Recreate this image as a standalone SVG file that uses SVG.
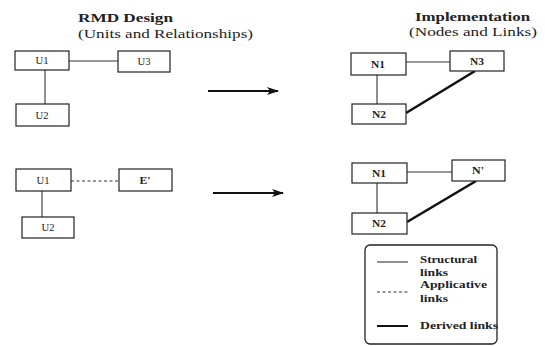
<svg xmlns="http://www.w3.org/2000/svg" width="545" height="346" viewBox="0 0 545 346">
<defs>
<style>
.box{fill:#fff;stroke:#222;stroke-width:1.2}
.ln{stroke:#333;stroke-width:1.1;fill:none}
.dash{stroke:#333;stroke-width:1.1;fill:none;stroke-dasharray:3,2.5}
.thick{stroke:#111;stroke-width:2.6;fill:none}
.arr{stroke:#111;stroke-width:2.2;fill:none}
.title{font-family:"Liberation Serif",serif;font-size:12px;font-weight:bold;fill:#222}
.sub{font-family:"Liberation Serif",serif;font-size:12px;fill:#222}
.lbl{font-family:"Liberation Serif",serif;font-size:10px;fill:#222;text-anchor:middle}
.lblb{font-family:"Liberation Serif",serif;font-size:10px;font-weight:bold;fill:#222;text-anchor:middle}
.leg{font-family:"Liberation Serif",serif;font-size:10px;font-weight:bold;fill:#222}
</style>
<marker id="ah" viewBox="0 0 12 8" refX="11" refY="4" markerWidth="12" markerHeight="8" markerUnits="userSpaceOnUse" orient="auto">
<path d="M0,0 L12,4 L0,8 L3,4 Z" fill="#111"/>
</marker>
</defs>
<rect width="545" height="346" fill="#fff"/>
<text class="title" x="78" y="22" textLength="95" lengthAdjust="spacingAndGlyphs">RMD Design</text>
<text class="sub" x="78" y="38" textLength="175" lengthAdjust="spacingAndGlyphs">(Units and Relationships)</text>
<text class="title" x="415" y="21" textLength="115" lengthAdjust="spacingAndGlyphs">Implementation</text>
<text class="sub" x="409" y="36" textLength="128" lengthAdjust="spacingAndGlyphs">(Nodes and Links)</text>
<g id="connectors">
<line class="ln" x1="69" y1="61" x2="118" y2="61"/>
<line class="ln" x1="45" y1="70" x2="45" y2="104"/>
<line class="arr" x1="208" y1="91" x2="278" y2="91" marker-end="url(#ah)"/>
<line class="ln" x1="406" y1="62" x2="450" y2="62"/>
<line class="ln" x1="377" y1="75" x2="377" y2="104"/>
<line class="thick" x1="406" y1="113" x2="475" y2="71"/>
<line class="dash" x1="71" y1="181" x2="119" y2="181"/>
<line class="ln" x1="42" y1="191" x2="42" y2="217"/>
<line class="arr" x1="213" y1="193" x2="283" y2="193" marker-end="url(#ah)"/>
<line class="ln" x1="407" y1="172" x2="452" y2="172"/>
<line class="ln" x1="377" y1="183" x2="377" y2="213"/>
<line class="thick" x1="407" y1="222" x2="476" y2="181"/>
</g>
<g id="U1a"><rect class="box" x="15" y="51" width="54" height="19"/><text class="lbl" x="42" y="64" textLength="13" lengthAdjust="spacingAndGlyphs">U1</text></g>
<g id="U3"><rect class="box" x="118" y="51" width="52" height="21"/><text class="lbl" x="144" y="65" textLength="13" lengthAdjust="spacingAndGlyphs">U3</text></g>
<g id="U2a"><rect class="box" x="16" y="104" width="53" height="22"/><text class="lbl" x="42" y="119" textLength="13" lengthAdjust="spacingAndGlyphs">U2</text></g>
<g id="N1a"><rect class="box" x="351" y="53" width="55" height="22"/><text class="lblb" x="378" y="68" textLength="14" lengthAdjust="spacingAndGlyphs">N1</text></g>
<g id="N3"><rect class="box" x="450" y="51" width="54" height="20"/><text class="lblb" x="477" y="65" textLength="14" lengthAdjust="spacingAndGlyphs">N3</text></g>
<g id="N2a"><rect class="box" x="352" y="104" width="54" height="20"/><text class="lblb" x="379" y="118" textLength="14" lengthAdjust="spacingAndGlyphs">N2</text></g>
<g id="U1b"><rect class="box" x="16" y="169" width="55" height="22"/><text class="lbl" x="43" y="184" textLength="13" lengthAdjust="spacingAndGlyphs">U1</text></g>
<g id="E"><rect class="box" x="119" y="169" width="53" height="22"/><text class="lblb" x="145" y="184" textLength="11" lengthAdjust="spacingAndGlyphs">E'</text></g>
<g id="U2b"><rect class="box" x="22" y="217" width="52" height="21"/><text class="lbl" x="48" y="231" textLength="13" lengthAdjust="spacingAndGlyphs">U2</text></g>
<g id="N1b"><rect class="box" x="352" y="163" width="55" height="20"/><text class="lblb" x="379" y="177" textLength="14" lengthAdjust="spacingAndGlyphs">N1</text></g>
<g id="Nprime"><rect class="box" x="452" y="160" width="53" height="21"/><text class="lblb" x="478" y="174" textLength="12" lengthAdjust="spacingAndGlyphs">N'</text></g>
<g id="N2b"><rect class="box" x="352" y="213" width="55" height="21"/><text class="lblb" x="379" y="227" textLength="14" lengthAdjust="spacingAndGlyphs">N2</text></g>
<g id="legend">
<rect x="365" y="245" width="132" height="99" rx="5" ry="5" fill="#fff" stroke="#222" stroke-width="1.3"/>
<line class="ln" x1="377" y1="262" x2="408" y2="262"/>
<text class="leg" x="420" y="263" textLength="57" lengthAdjust="spacingAndGlyphs">Structural</text>
<text class="leg" x="420" y="276" textLength="28" lengthAdjust="spacingAndGlyphs">links</text>
<line class="dash" x1="377" y1="292" x2="408" y2="292"/>
<text class="leg" x="420" y="288" textLength="67" lengthAdjust="spacingAndGlyphs">Applicative</text>
<text class="leg" x="420" y="302" textLength="28" lengthAdjust="spacingAndGlyphs">links</text>
<line x1="377" y1="326" x2="408" y2="326" stroke="#111" stroke-width="2"/>
<text class="leg" x="420" y="329" textLength="78" lengthAdjust="spacingAndGlyphs">Derived links</text>
</g>
</svg>
